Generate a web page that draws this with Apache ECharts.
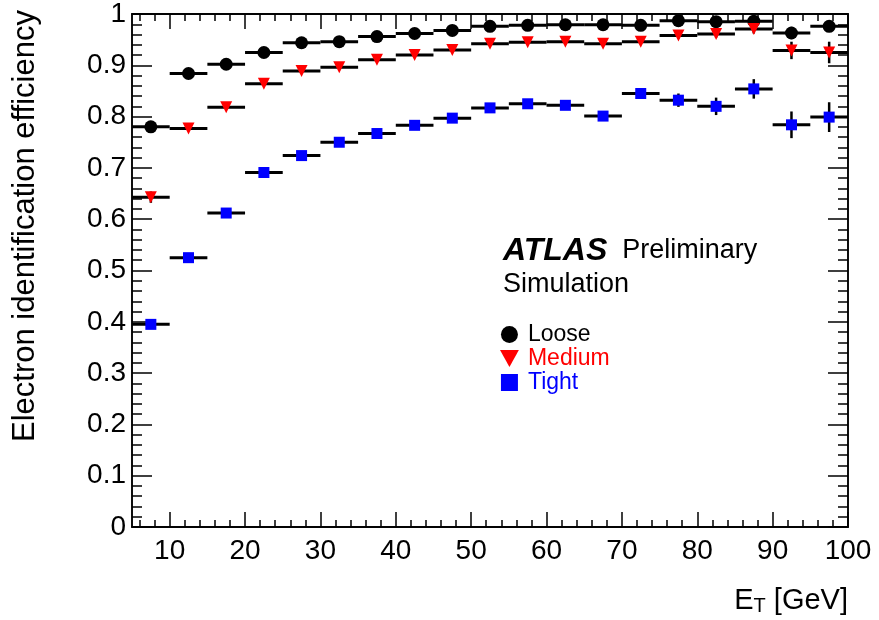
<!DOCTYPE html>
<html>
<head>
<meta charset="utf-8">
<title>Electron identification efficiency</title>
<script src="https://cdn.jsdelivr.net/npm/echarts@6/dist/echarts.min.js"></script>
<style>
    html, body {
        margin: 0;
        padding: 0;
        background: #fff;
    }
    #chart {
        width: 879px;
        height: 620px;
    }
</style>
</head>
<body>
<div id="chart"></div>
<script>
// bins in E_T (GeV), 5 GeV wide
const binCenters = [7.5, 12.5, 17.5, 22.5, 27.5, 32.5, 37.5, 42.5, 47.5, 52.5, 57.5, 62.5, 67.5, 72.5, 77.5, 82.5, 87.5, 92.5, 97.5]
const binHalfWidth = 2.5

const looseEff = [0.780, 0.884, 0.902, 0.925, 0.944, 0.946, 0.956, 0.962, 0.968, 0.976, 0.978, 0.979, 0.979, 0.978, 0.987, 0.985, 0.986, 0.963, 0.976]
const looseErr = [0.004, 0.003, 0.003, 0.003, 0.003, 0.003, 0.003, 0.003, 0.003, 0.003, 0.003, 0.003, 0.004, 0.004, 0.005, 0.006, 0.007, 0.012, 0.009]

const mediumEff = [0.643, 0.777, 0.818, 0.864, 0.889, 0.896, 0.911, 0.920, 0.930, 0.942, 0.945, 0.946, 0.942, 0.946, 0.958, 0.961, 0.971, 0.929, 0.925]
const mediumErr = [0.011, 0.004, 0.004, 0.004, 0.004, 0.004, 0.004, 0.004, 0.004, 0.004, 0.004, 0.004, 0.005, 0.005, 0.006, 0.007, 0.009, 0.017, 0.021]

const tightEff = [0.395, 0.525, 0.612, 0.691, 0.724, 0.750, 0.767, 0.783, 0.797, 0.817, 0.825, 0.822, 0.801, 0.845, 0.832, 0.820, 0.854, 0.784, 0.799]
const tightErr = [0.008, 0.005, 0.004, 0.004, 0.004, 0.004, 0.004, 0.004, 0.004, 0.004, 0.005, 0.006, 0.006, 0.008, 0.013, 0.017, 0.019, 0.026, 0.029]

// axis ticks
const xMajorTicks = [10, 20, 30, 40, 50, 60, 70, 80, 90, 100]
const xMinorTicks = [6, 8, 12, 14, 16, 18, 22, 24, 26, 28, 32, 34, 36, 38, 42, 44, 46, 48, 52, 54, 56, 58, 62, 64, 66, 68, 72, 74, 76, 78, 82, 84, 86, 88, 92, 94, 96, 98]

const FONT = 'Liberation Sans, Arial, Helvetica, sans-serif'
const downTriangle = 'path://M0,0 L10,0 L5,9 Z'
const square = 'path://M0,0 L10,0 L10,10 L0,10 Z'

const chart = echarts.init(document.getElementById('chart'))

function makeXAxis(position, ticks, len, showLabel) {
    return {
        type: 'value',
        position: position,
        min: 5,
        max: 100,
        axisLine: { show: true, lineStyle: { color: '#000', width: 1.5 } },
        axisTick: {
            show: true,
            inside: true,
            length: len,
            customValues: ticks,
            lineStyle: { color: '#000', width: 1.5 }
        },
        axisLabel: {
            show: showLabel,
            customValues: ticks,
            margin: 10,
            fontSize: 28,
            fontFamily: FONT,
            color: '#000'
        },
        splitLine: { show: false }
    }
}

function makeYAxis(position, showLabel) {
    return {
        type: 'value',
        position: position,
        min: 0,
        max: 1,
        interval: 0.1,
        axisLine: { show: true, lineStyle: { color: '#000', width: 1.5 } },
        axisTick: { show: true, inside: true, length: 20, lineStyle: { color: '#000', width: 1.5 } },
        minorTick: { show: true, splitNumber: 5, length: 10, lineStyle: { color: '#000', width: 1.5 } },
        axisLabel: {
            show: showLabel,
            margin: 6,
            fontSize: 28,
            fontFamily: FONT,
            color: '#000',
            formatter: v => (v === 0 || v === 1) ? String(v) : v.toFixed(1)
        },
        splitLine: { show: false }
    }
}

// error bars: horizontal = bin width, vertical = stat error
function errorSeries(eff, err) {
    return {
        type: 'custom',
        xAxisIndex: 0,
        yAxisIndex: 0,
        data: binCenters.map((x, i) => [x, eff[i], err[i]]),
        encode: { x: 0, y: 1 },
        renderItem: (params, api) => {
            const x = api.value(0)
            const y = api.value(1)
            const e = api.value(2)
            const l = api.coord([x - binHalfWidth, y])
            const r = api.coord([x + binHalfWidth, y])
            const lo = api.coord([x, y - e])
            const hi = api.coord([x, y + e])
            return {
                type: 'group',
                children: [
                    { type: 'line', shape: { x1: l[0], y1: l[1], x2: r[0], y2: r[1] }, style: { stroke: '#000', lineWidth: 3 } },
                    { type: 'line', shape: { x1: lo[0], y1: lo[1], x2: hi[0], y2: hi[1] }, style: { stroke: '#000', lineWidth: 2.5 } }
                ]
            }
        }
    }
}

function markerSeries(name, eff, symbol, size, color) {
    return {
        name: name,
        type: 'scatter',
        xAxisIndex: 0,
        yAxisIndex: 0,
        data: binCenters.map((x, i) => [x, eff[i]]),
        symbol: symbol,
        symbolSize: size,
        itemStyle: { color: color, opacity: 1 },
        emphasis: { disabled: true }
    }
}

const option = {
    animation: false,
    backgroundColor: '#fff',
    grid: {
        left: 132,
        right: 31,
        top: 13,
        bottom: 93,
        show: true,
        borderColor: '#000',
        borderWidth: 1.5
    },
    xAxis: [
        makeXAxis('bottom', xMajorTicks, 15, true),
        makeXAxis('bottom', xMinorTicks, 7, false),
        makeXAxis('top', xMajorTicks, 15, false),
        makeXAxis('top', xMinorTicks, 7, false)
    ],
    yAxis: [
        makeYAxis('left', true),
        makeYAxis('right', false)
    ],
    legend: {
        orient: 'vertical',
        left: 495,
        top: 318,
        itemWidth: 27,
        itemHeight: 17,
        itemGap: 1,
        selectedMode: false,
        textStyle: { fontSize: 23, fontFamily: FONT },
        data: [
            { name: 'Loose', icon: 'circle', textStyle: { color: '#000' } },
            { name: 'Medium', icon: downTriangle, textStyle: { color: '#f00' } },
            { name: 'Tight', icon: square, textStyle: { color: '#00f' } }
        ]
    },
    graphic: [
        {
            type: 'text',
            x: 25,
            y: 226,
            rotation: Math.PI / 2,
            style: {
                text: 'Electron identification efficiency',
                fontSize: 31,
                fontFamily: FONT,
                fill: '#000',
                align: 'center',
                verticalAlign: 'middle'
            }
        },
        {
            type: 'text',
            x: 848,
            y: 601,
            style: {
                text: '{e|E}{sub|T}{e| [GeV]}',
                align: 'right',
                verticalAlign: 'middle',
                fill: '#000',
                rich: {
                    e: { fontSize: 29, fontFamily: FONT, lineHeight: 30, verticalAlign: 'top' },
                    sub: { fontSize: 20, fontFamily: FONT, lineHeight: 14, verticalAlign: 'bottom' }
                }
            }
        },
        {
            type: 'text',
            x: 503,
            y: 251,
            style: {
                text: '{a|ATLAS}{p|  Preliminary}',
                verticalAlign: 'middle',
                fill: '#000',
                rich: {
                    a: { fontSize: 32, fontFamily: FONT, fontWeight: 'bold', fontStyle: 'italic' },
                    p: { fontSize: 27, fontFamily: FONT }
                }
            }
        },
        {
            type: 'text',
            x: 503,
            y: 285,
            style: {
                text: 'Simulation',
                fontSize: 27,
                fontFamily: FONT,
                fill: '#000',
                verticalAlign: 'middle'
            }
        }
    ],
    series: [
        errorSeries(looseEff, looseErr),
        markerSeries('Loose', looseEff, 'circle', 13, '#000'),
        errorSeries(mediumEff, mediumErr),
        markerSeries('Medium', mediumEff, downTriangle, 12, '#f00'),
        errorSeries(tightEff, tightErr),
        markerSeries('Tight', tightEff, square, 11, '#00f')
    ]
}

chart.setOption(option)
</script>
</body>
</html>
